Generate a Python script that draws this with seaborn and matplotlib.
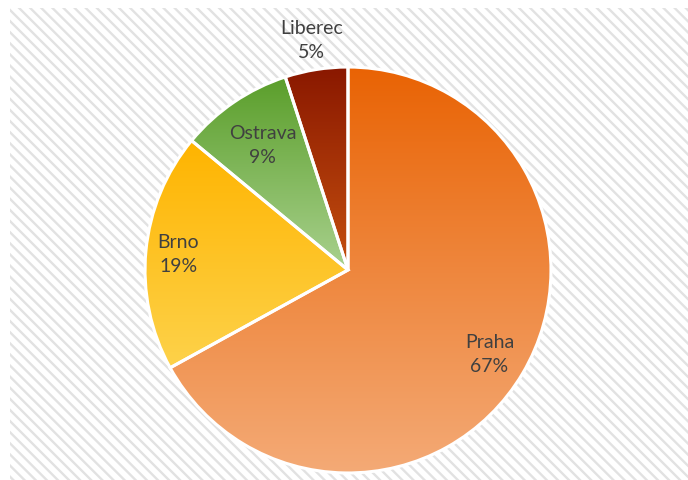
import numpy as np
import matplotlib
matplotlib.use('Agg')
import matplotlib.pyplot as plt
from matplotlib.colors import LinearSegmentedColormap
from matplotlib.patches import Rectangle
import seaborn as sns

#------------------------------------------------------------------------------
# data
cities = ['Praha', 'Brno', 'Ostrava', 'Liberec']
shares = [67, 19, 9, 5]
# gradient colours for each slice (top -> bottom)
top_colors = ['#E96304', '#FFB400', '#5A9E2A', '#8A1800']
bottom_colors = ['#F4AA76', '#FDD24A', '#A9D18E', '#C5500F']
# label distance from the centre (fraction of radius)
label_dist = [0.81, 0.84, 0.75, 1.15]
#------------------------------------------------------------------------------

sns.set_theme(style='white')
plt.rcParams['font.family'] = ['Lato', 'DejaVu Sans']
plt.rcParams['hatch.linewidth'] = 1.7
plt.rcParams['hatch.color'] = '#E2E2E2'

W, H = 688, 481
fig = plt.figure(figsize=(W / 100, H / 100), dpi=100)
fig.patch.set_facecolor('white')

# striped chart area background
bg = Rectangle((10 / W, 0), 1 - 10 / W, 1 - 9 / H, transform=fig.transFigure,
               facecolor='white', edgecolor='#E2E2E2', hatch='\\\\\\', lw=0, zorder=-5)
fig.patches.append(bg)

# pie axes
cx, cy, r = 348, 271, 205
ax = fig.add_axes([(cx - r) / W, (H - cy - r) / H, 2 * r / W, 2 * r / H])
ax.set_zorder(2)
ax.set_facecolor('none')

wedges, _ = ax.pie(shares, startangle=90, counterclock=False, radius=1,
                   colors=top_colors,
                   wedgeprops={'edgecolor': 'white', 'linewidth': 2.2})

# vertical gradient inside each wedge
for w, c_top, c_bot in zip(wedges, top_colors, bottom_colors):
    ext = w.get_path().get_extents()
    cmap = LinearSegmentedColormap.from_list('g', [c_bot, c_top])
    grad = np.linspace(0, 1, 256).reshape(-1, 1)
    im = ax.imshow(grad, cmap=cmap, origin='lower', aspect='auto',
                   extent=[ext.x0, ext.x1, ext.y0, ext.y1], zorder=1)
    im.set_clip_path(w)
    w.set_facecolor('none')
    w.set_zorder(2)

ax.set_xlim(-1.01, 1.01)
ax.set_ylim(-1.01, 1.01)
ax.set_aspect('auto')
ax.axis('off')

# labels
for w, name, val, d in zip(wedges, cities, shares, label_dist):
    ang = np.deg2rad((w.theta1 + w.theta2) / 2)
    ax.text(d * np.cos(ang), d * np.sin(ang), f'{name}\n{val}%',
            ha='center', va='center', fontsize=14, color='#404040',
            linespacing=1.5, zorder=10)

fig.savefig('out.png', dpi=100)
